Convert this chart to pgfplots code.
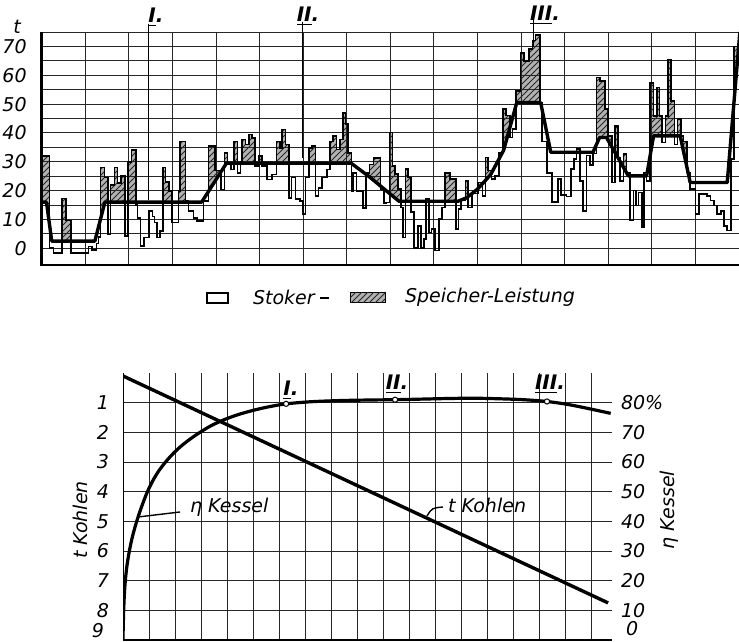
\documentclass[border=0pt]{standalone}
\usepackage{pgfplots}
\pgfplotsset{compat=1.18}
\usepackage{pgfplotstable}
\usepackage{fontspec}
\setmainfont{DejaVu Sans}[ItalicFont={DejaVu Sans Oblique},BoldFont={DejaVu Sans Bold},BoldItalicFont={DejaVu Sans Bold Oblique}]
\usetikzlibrary{patterns}

% Belastung (duenne Treppenkurve), t
\pgfplotstableread{
x y
0 32
0.18 0
0.27 -1.7
0.46 17.3
0.56 9.6
0.67 -1.7
1.07 0.6
1.15 -0.6
1.26 1.7
1.30 4
1.35 28
1.44 24.5
1.52 4.8
1.58 22
1.67 28
1.74 22.7
1.82 25
1.91 4.3
1.98 30
2.06 34
2.16 15
2.20 10.6
2.27 0.8
2.35 3.7
2.46 12.9
2.54 11
2.59 8.9
2.65 3.7
2.71 6
2.79 28
2.84 23
2.92 19.8
2.99 8.9
3.14 19.8
3.18 37
3.30 16.4
3.37 12.9
3.48 10.6
3.56 9.5
3.71 16.4
3.83 35.4
3.98 27
4.11 20.4
4.19 33
4.26 29
4.34 27.3
4.41 37
4.49 26
4.56 30
4.60 37.7
4.68 36
4.75 39.4
4.83 38.3
4.90 28.5
4.98 32
5.05 28.5
5.17 23.9
5.28 25.6
5.39 37
5.47 34.8
5.52 41.2
5.59 36
5.67 17.5
5.73 24.5
5.82 17
5.92 16.4
5.99 11.8
6.05 24.5
6.13 34.8
6.20 35.4
6.28 18.1
6.35 21
6.43 24.5
6.54 27.3
6.61 37
6.69 38.9
6.76 34.3
6.84 37.7
6.92 47
6.97 43
7.03 33
7.11 19.8
7.14 26
7.22 19.8
7.37 14
7.44 26
7.52 29
7.61 31.4
7.77 20.5
7.85 15.5
7.90 15.9
7.98 40.1
8.05 28.6
8.11 25.7
8.17 20.5
8.24 14.2
8.29 3.8
8.35 27.5
8.41 24.6
8.47 12.5
8.54 0
8.64 7.8
8.71 0
8.77 3.2
8.82 17
8.88 5.5
8.94 6.7
9.03 -0.8
9.11 10.1
9.18 14.2
9.26 26
9.37 24
9.50 6.7
9.56 13.6
9.62 16.5
9.72 23.4
9.78 14.2
9.87 19
10.01 22.8
10.11 18.2
10.18 31.5
10.24 26.9
10.32 24
10.40 25
10.49 33.2
10.59 48.4
10.66 46.1
10.74 38.4
10.80 41.3
10.88 54.6
10.99 67.8
11.07 65
11.18 69
11.26 72
11.33 74
11.44 50.5
11.48 37
11.60 26
11.71 16
11.85 24
11.92 18.5
12.04 18
12.15 27.5
12.21 30.9
12.27 34.4
12.35 23.4
12.42 13
12.50 32.2
12.58 28.8
12.65 32.8
12.73 59.2
12.81 58
12.92 48.2
13.00 39
13.08 22.8
13.15 42.4
13.22 31.5
13.27 23.4
13.35 32.6
13.42 26.3
13.50 9.6
13.58 20
13.64 14.8
13.69 19.4
13.77 7.3
13.82 26.3
13.88 23.4
13.96 57.4
14.04 45.9
14.12 55.7
14.18 45.9
14.23 36.7
14.31 45.9
14.37 65.5
14.44 51
14.52 36
14.59 44.8
14.67 39
14.73 37
14.81 26.3
14.88 20.5
15.00 11.9
15.08 18.8
15.27 18.2
15.35 16.5
15.42 14.8
15.50 11.9
15.58 13
15.65 7.8
15.73 6.1
15.81 31
15.88 70
16.00 70
}\load

% Stoker (dicke Linie), t
\pgfplotstableread{
x y
0 16
0.11 16
0.23 2.5
1.22 2.5
1.45 16
3.67 16
4.24 29.5
7.10 29.5
7.50 25
8.20 16.3
9.55 16.3
9.75 17.5
10.00 20.5
10.30 25.5
10.60 34
10.90 50.5
11.45 50.5
11.68 33.3
12.65 33.3
12.80 38.4
12.96 38.4
13.46 25.1
13.88 25.1
14.04 39
14.65 39
14.88 22.8
15.73 22.8
16.02 75
}\stoker

% Kesselwirkungsgrad, %
\pgfplotstableread{
x y
0 0
0.01 5
0.03 11
0.06 16.5
0.10 21
0.16 25.5
0.24 29.8
0.34 34
0.46 38
0.60 42
0.76 46
0.94 50
1.14 53.6
1.36 56.8
1.60 59.6
1.88 62.4
2.20 65.1
2.56 67.6
2.96 70
3.40 72.3
3.90 74.3
4.40 75.9
5.00 77.4
5.60 78.6
6.27 79.6
7.20 80.3
8.30 80.7
9.50 80.9
10.46 81.0
11.50 81.2
12.50 81.4
13.50 81.5
14.50 81.3
15.40 81.0
16.30 80.4
17.10 79.4
17.90 78.0
18.75 76.4
}\eta

\tikzset{
  gridl/.style={black!85, line width=0.45pt},
  speicher/.style={fill=gray!60, postaction={pattern=north east lines, pattern color=black!85}},
  roem/.style={font=\fontsize{10}{11}\selectfont\bfseries\itshape},
}

\begin{document}
\begin{tikzpicture}[font=\fontsize{9.5}{11}\selectfont\itshape]

% ---------- oben: Belastung ----------
\begin{axis}[
  at={(20.85pt,188.5pt)}, anchor=south west,
  scale only axis, width=348.65pt, height=116.5pt,
  xmin=0, xmax=16, ymin=-5.8, ymax=75,
  set layers, clip mode=individual,
  axis line style={draw=none},
  xtick={0,...,16}, xticklabels={},
  ytick={0,10,...,70}, minor ytick={5,15,...,75},
  grid=both, major grid style={gridl}, minor grid style={gridl},
  major tick length=0pt, minor tick length=0pt,
  yticklabel style={xshift=-4pt, font=\fontsize{9.5}{11}\selectfont\itshape},
  /pgf/number format/assume math mode=true,
]
\addplot[const plot, draw=none, speicher, on layer=axis background]
  table {\load} -- (axis cs:16,-6) -- (axis cs:0,-6) -- cycle;
\addplot[draw=none, fill=white, on layer=axis background]
  table {\stoker} -- (axis cs:16.02,-6) -- (axis cs:0,-6) -- cycle;
\addplot[const plot, black, line width=0.8pt] table {\load};
\addplot[black, line width=1.7pt, line join=round] table {\stoker};
\draw[line width=1.4pt] (axis cs:0,75) -- (axis cs:0,-5.8) -- (axis cs:16,-5.8);
\end{axis}

% ---------- unten: t Kohlen ----------
\begin{axis}[
  at={(61.5pt,1pt)}, anchor=south west,
  scale only axis, width=244.5pt, height=133.5pt,
  xmin=0, xmax=18.8, ymin=0, ymax=9, y dir=reverse,
  axis line style={draw=none},
  xtick={1,...,18}, xticklabels={},
  ytick={1,...,9}, yticklabels={1,2,3,4,5,6,7,8,},
  grid=major, major grid style={gridl}, major tick length=0pt,
  yticklabel style={xshift=-3.5pt, font=\fontsize{9.5}{11}\selectfont\itshape},
]
\addplot[black, line width=1.7pt] coordinates {(0,0.1) (18.65,7.75)};
\draw[line width=1.4pt] (axis cs:0,0) -- (axis cs:0,9) -- (axis cs:18.8,9);
\end{axis}

% ---------- unten: eta Kessel ----------
\begin{axis}[
  at={(61.5pt,1pt)}, anchor=south west,
  scale only axis, width=244.5pt, height=133.5pt,
  xmin=0, xmax=18.8, ymin=0, ymax=90,
  axis y line*=right, hide x axis,
  axis line style={draw=none},
  ytick={10,20,...,80},
  yticklabels={10,20,30,40,50,60,70,80\%},
  major tick length=0pt,
  yticklabel style={xshift=1pt, font=\fontsize{9.5}{11}\selectfont\itshape},
]
\addplot[smooth, black, line width=1.6pt, line join=round] table {\eta};
\addplot[only marks, mark=*, mark size=1.3pt, mark options={fill=white, draw=black, line width=0.5pt}]
  coordinates {(6.27,79.6) (10.46,81.0) (16.3,80.4)};
\end{axis}

% ---------- Beschriftungen (Pixelraster 739 x 642) ----------
\begin{scope}[shift={(0,321pt)}, x=0.5pt, y=-0.5pt]
  \node at (17,27) {t};
  % Betriebspunkte oben
  \draw[line width=0.5pt] (148,24) -- (148,200);
  \draw[line width=0.5pt] (302,22) -- (302,158);
  \draw[line width=0.5pt] (533,20) -- (533,47);
  \node[roem] at (156,17) {\underline{I}.};
  \node[roem] at (308,16) {\underline{II}.};
  \node[roem] at (545,15) {\underline{III}.};
  % Legende
  \draw[line width=0.8pt, fill=white] (207,293) rectangle (228,303);
  \node[anchor=west] at (246,297) {Stoker};
  \draw[line width=1.1pt] (320,298) -- (329,298);
  \draw[line width=0.5pt, speicher] (350,293) rectangle (385,303);
  \node[anchor=west] at (398,297) {Speicher-Leistung};
  % Betriebspunkte unten
  \node[roem] at (291,390) {\underline{I}.};
  \node[roem] at (397,384) {\underline{II}.};
  \node[roem] at (550,384) {\underline{III}.};
  % untere Randbeschriftungen
  \node[anchor=east] at (111,631) {9};
  \node[anchor=west] at (619,629) {0};
  % Kurvenbeschriftungen
  \draw[line width=0.7pt] (138,517) -- (180,512);
  \node[anchor=west] at (183,507) {η Kessel};
  \draw[line width=0.7pt] (427,516) .. controls (432,508) .. (443,507);
  \node[anchor=west] at (441,505) {t Kohlen};
  \node[rotate=90] at (80,520) {t Kohlen};
  \node[rotate=90] at (669,510) {η Kessel};
\end{scope}
\pgfresetboundingbox
\path[use as bounding box] (0,0) rectangle (369.5pt,321pt);
\end{tikzpicture}
\end{document}
